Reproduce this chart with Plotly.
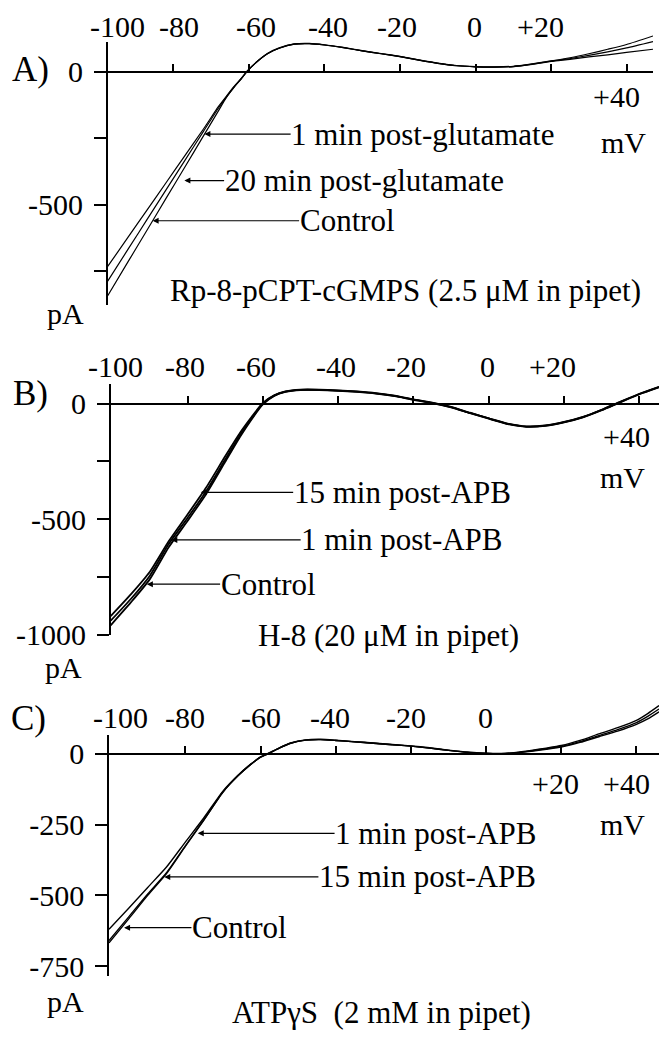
import plotly.graph_objects as go

W, H = 659, 1043
FONT = "Liberation Serif, Times New Roman, serif"

# ---------------- data (mV, pA) ----------------
# Panel A: Rp-8-pCPT-cGMPS
VA = [-97.4, -92, -87, -82, -77, -72, -68, -66, -64, -62, -60.5, -58, -55, -52, -48, -44,
      -40, -35, -30, -25, -20, -15, -10, -5, 0, 5, 10, 15, 20, 25, 30, 35, 40, 47]
A_CONTROL = [-843, -715, -597, -478, -360, -241, -146, -98, -60, -27, 0, 35, 68, 88, 103, 105,
             100, 90, 78, 67, 56, 43, 31, 22, 18, 17, 19, 27, 38, 46, 55, 63, 72, 84]
A_20MIN = [-788, -668, -557, -446, -335, -224, -136, -96, -59, -26, 1, 36, 68, 88, 103, 105,
           100, 90, 78, 67, 56, 43, 31, 22, 18, 17, 19, 28, 39, 49, 61, 74, 89, 113]
A_1MIN = [-733, -623, -521, -419, -317, -215, -130, -93, -57, -25, 2, 36, 69, 89, 104, 106,
          101, 91, 79, 68, 57, 44, 32, 23, 19, 18, 20, 29, 40, 52, 67, 84, 102, 134]

# Panel B: H-8
VB = [-100.4, -95, -90, -85, -80, -75, -70, -66, -63, -60, -57, -54, -50, -45, -40, -35,
      -30, -25, -20, -15, -10, -5, 0, 5, 10, 15, 20, 25, 30, 35, 40, 45.2]
B_CONTROL = [-960, -860, -760, -622, -508, -390, -252, -142, -68, -3, 34, 51, 59, 59, 56, 51,
             44, 33, 17, 3, -16, -41, -65, -88, -100, -96, -81, -59, -28, 7, 41, 71]
B_1MIN = [-940, -845, -745, -608, -495, -378, -242, -135, -64, 0, 35, 52, 60, 60, 57, 52,
          45, 34, 18, 4, -15, -40, -64, -87, -99, -95, -80, -58, -27, 8, 42, 72]
B_15MIN = [-920, -825, -728, -596, -480, -362, -228, -125, -58, 3, 36, 53, 61, 61, 58, 53,
           46, 35, 19, 5, -14, -39, -63, -86, -98, -94, -79, -57, -26, 9, 43, 73]

# Panel C: ATPgammaS
VC = [-100.3, -95, -90, -85, -80, -75, -70, -66, -63, -60, -58, -55, -52, -48, -44, -40,
      -35, -30, -25, -20, -15, -10, -5, 0, 4, 8, 12, 16, 20, 25, 30, 35, 40, 43, 46]
C_CONTROL = [-620, -545, -472, -400, -312, -225, -132, -76, -41, -11, 1, 21, 37, 48, 50, 47,
             42, 37, 32, 27, 20, 12, 5, 1, 0, 3, 9, 16, 24, 40, 60, 80, 104, 123, 148]
C_1MIN = [-668, -582, -500, -423, -327, -233, -136, -78, -42, -12, 0, 20, 38, 49, 51, 48,
          43, 38, 33, 28, 21, 13, 6, 2, 1, 5, 12, 20, 29, 47, 70, 92, 118, 142, 170]
C_15MIN = [-660, -575, -495, -420, -325, -232, -135, -78, -42, -12, 0, 20, 37, 48, 50, 47,
           42, 37, 32, 27, 20, 12, 5, 1, 0, 4, 10, 18, 26, 43, 64, 85, 110, 132, 158]

# tick labels
XTICK_TEXT_AB = ["-100", "-80", "-60", "-40", "-20", "0", "+20"]
XTICK_TEXT_C = ["-100", "-80", "-60", "-40", "-20", "0"]
XTICK_VALS = [-80, -60, -40, -20, 0, 20, 40]
A_YTICKS = [0, -250, -500, -750]
A_YTEXT = ["0", "", "-500", ""]
B_YTICKS = [0, -250, -500, -750, -1000]
B_YTEXT = ["0", "", "-500", "", "-1000"]
C_YTICKS = [0, -250, -500, -750]
C_YTEXT = ["0", "-250", "-500", "-750"]

# ---------------- geometry (pixels of the 659x1043 page) ----------------
def px(x):
    return x / W

def py(y):
    return 1 - y / H

# zero: pixel row of 0 pA; s: pixels per pA; yt/yb: ends of drawn y axis; dt: top of data area
panels = [
    dict(x=VA, series=[A_CONTROL, A_20MIN, A_1MIN], xl=107.7, xr=653, zero=72.7, s=0.27,
         yt=43, yb=310, dt=20, xrange=[-97.4, 47.0], yticks=A_YTICKS, ytext=A_YTEXT, width=1.2),
    dict(x=VB, series=[B_CONTROL, B_1MIN, B_15MIN], xl=110.7, xr=659, zero=410, s=0.2344,
         yt=390, yb=645, dt=370, xrange=[-100.4, 45.2], yticks=B_YTICKS, ytext=B_YTEXT, width=1.8),
    dict(x=VC, series=[C_CONTROL, C_1MIN, C_15MIN], xl=109, xr=659, zero=765.5, s=0.2876,
         yt=746.7, yb=991.7, dt=700, xrange=[-100.3, 46.0], yticks=C_YTICKS, ytext=C_YTEXT, width=1.4),
]

fig = go.Figure()
layout = dict(
    width=W, height=H, margin=dict(l=0, r=0, t=0, b=0),
    paper_bgcolor="white", plot_bgcolor="rgba(0,0,0,0)", showlegend=False,
    font=dict(family=FONT, size=30, color="black"),
)

for i, p in enumerate(panels):
    n = "" if i == 0 else str(i + 1)       # data axes y, y2, y3 / x, x2, x3
    m = str(i + 4)                           # drawn y axes y4, y5, y6
    xd = [px(p["xl"]), min(1.0, px(p["xr"]))]
    layout["xaxis" + n] = dict(
        domain=xd, range=p["xrange"], anchor="free", position=py(p["zero"]),
        showline=True, linecolor="black", linewidth=1.5,
        ticks="inside", ticklen=7, tickwidth=1.5, tickcolor="black",
        tickvals=XTICK_VALS, showticklabels=False, showgrid=False, zeroline=False,
        fixedrange=True,
    )
    # data axis (taller, invisible) so curves may rise above the drawn axis
    layout["yaxis" + n] = dict(
        domain=[py(p["yb"]), py(p["dt"])],
        range=[-(p["yb"] - p["zero"]) / p["s"], (p["zero"] - p["dt"]) / p["s"]],
        anchor="x" + n, visible=False, fixedrange=True,
    )
    # drawn axis with the same scale
    layout["yaxis" + m] = dict(
        domain=[py(p["yb"]), py(p["yt"])],
        range=[-(p["yb"] - p["zero"]) / p["s"], (p["zero"] - p["yt"]) / p["s"]],
        anchor="x" + n, showline=True, linecolor="black", linewidth=1.5,
        ticks="outside", ticklen=12, tickwidth=1.5, tickcolor="black",
        tickvals=p["yticks"], ticktext=p["ytext"], ticklabelstandoff=5,
        tickfont=dict(size=30, family=FONT), showgrid=False, zeroline=False,
        fixedrange=True,
    )
    for s in p["series"]:
        fig.add_trace(go.Scatter(x=p["x"], y=s, mode="lines",
                                 line=dict(color="black", width=p["width"],
                                           shape="spline", smoothing=0.6),
                                 xaxis="x" + n, yaxis="y" + n, hoverinfo="skip"))
    # invisible trace so the drawn axis is active
    fig.add_trace(go.Scatter(x=[p["xrange"][0]], y=[0], mode="markers",
                             marker=dict(opacity=0), xaxis="x" + n, yaxis="y" + m,
                             hoverinfo="skip"))

fig.update_layout(**layout)

ann = []

def text(t, x, y, size=30):
    ann.append(dict(text=t, x=px(x), y=py(y), xref="paper", yref="paper",
                    showarrow=False, xanchor="center", yanchor="middle",
                    font=dict(size=size, family=FONT, color="black")))

# top tick labels
for t, x in zip(XTICK_TEXT_AB, [117.6, 178.6, 256.3, 328, 397, 474.5, 540]):
    text(t, x, 27)
for t, x in zip(XTICK_TEXT_AB, [115.5, 185, 256, 336, 405.5, 487.4, 552.5]):
    text(t, x, 372)
for t, x in zip(XTICK_TEXT_C, [120, 185, 260.5, 330, 405.5, 485]):
    text(t, x, 729)

# panel letters, units, captions
text("A)", 30, 71, 35)
text("B)", 30, 400, 35)
text("C)", 28, 730, 35)
text("+40", 616, 98)
text("mV", 623, 145)
text("+40", 626, 443)
text("mV", 622, 485)
text("+20", 555, 796)
text("+40", 626.5, 796)
text("mV", 622, 837)
text("pA", 65, 318)
text("pA", 63, 678)
text("pA", 65, 1017)
text("Rp-8-pCPT-cGMPS (2.5 \u03bcM in pipet)", 405.6, 295, 31)
text("H-8 (20 \u03bcM in pipet)", 388.7, 645, 31)
text("ATP\u03b3S  (2 mM in pipet)", 381, 1028, 31)

def arrow(t, axis, x, y, ax):
    ann.append(dict(text=t, x=x, y=y, ax=ax, ay=y, xref="x" + axis, yref="y" + axis,
                    axref="x" + axis, ayref="y" + axis, showarrow=True,
                    arrowhead=2, arrowsize=1, arrowwidth=1.2, arrowcolor="black",
                    standoff=0, startstandoff=0, borderpad=0,
                    font=dict(size=31, family=FONT, color="black")))

arrow("1 min post-glutamate", "", -71.8, -235, -14.0)
arrow("20 min post-glutamate", "", -77.1, -410, -29.5)
arrow("Control", "", -85.5, -561, -34.0)
arrow("15 min post-APB", "2", -76.5, -384, -23.0)
arrow("1 min post-APB", "2", -84.3, -590, -23.0)
arrow("Control", "2", -90.8, -782, -58.6)
arrow("1 min post-APB", "3", -76.7, -281, -13.3)
arrow("15 min post-APB", "3", -85.6, -435, -15.6)
arrow("Control", "3", -96.3, -614, -65.6)

fig.update_layout(annotations=ann)
fig.write_html("out.html", config={"displayModeBar": False})
